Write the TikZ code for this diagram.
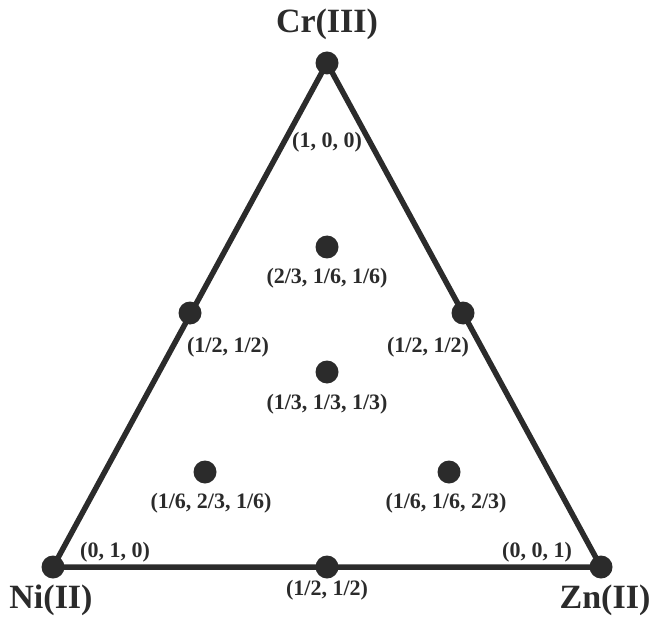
\documentclass[tikz,border=0pt]{standalone}
\usepackage{fontspec}
\setmainfont{Liberation Serif}
\definecolor{ink}{HTML}{2B2B2B}
\begin{document}
\begin{tikzpicture}[x=1pt,y=-1pt,
  dot/.style={circle,fill=ink,draw=none,minimum size=23pt,inner sep=0pt},
  edge/.style={draw=ink,line width=5.5pt,line join=round},
  lbl/.style={text=ink,font=\bfseries\fontsize{22}{22}\selectfont,inner sep=0pt},
  vlbl/.style={text=ink,font=\bfseries\fontsize{34}{34}\selectfont,inner sep=0pt}]
\useasboundingbox (0,0) rectangle (652,617);
% vertices and points
\coordinate (cr) at (327,63);
\coordinate (ni) at (53,567);
\coordinate (zn) at (601,567);
\draw[edge] (cr) -- (ni) -- (zn) -- cycle;
\node[dot] (dcr) at (cr) {};
\node[dot] (dni) at (ni) {};
\node[dot] (dzn) at (zn) {};
\node[dot] (ml) at (190,313) {};
\node[dot] (mr) at (463,313) {};
\node[dot] (mb) at (327,567) {};
\node[dot] (p1) at (327,247) {};
\node[dot] (p2) at (327,372) {};
\node[dot] (p3) at (205,472) {};
\node[dot] (p4) at (449,472) {};
% vertex labels
\node[vlbl] (tcr) at (327,24) {Cr(III)};
\node[vlbl] (tni) at (51,600) {Ni(II)};
\node[vlbl] (tzn) at (605,600) {Zn(II)};
% coordinate labels
\node[lbl] (l100) at (327,142) {(1, 0, 0)};
\node[lbl] (l1) at (327,278) {(2/3, 1/6, 1/6)};
\node[lbl] (lml) at (228,347) {(1/2, 1/2)};
\node[lbl] (lmr) at (428,347) {(1/2, 1/2)};
\node[lbl] (l2) at (327,404) {(1/3, 1/3, 1/3)};
\node[lbl] (l3) at (211,503) {(1/6, 2/3, 1/6)};
\node[lbl] (l4) at (446,503) {(1/6, 1/6, 2/3)};
\node[lbl] (l010) at (115,552) {(0, 1, 0)};
\node[lbl] (l001) at (537,552) {(0, 0, 1)};
\node[lbl] (lmb) at (327,590) {(1/2, 1/2)};
\end{tikzpicture}
\end{document}
